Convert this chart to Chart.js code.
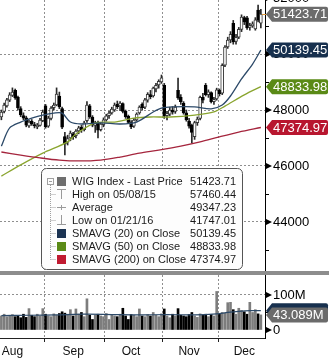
<!DOCTYPE html>
<html>
<head>
<meta charset="utf-8">
<script src="https://cdn.jsdelivr.net/npm/chart.js@4.4.1/dist/chart.umd.min.js"></script>
<style>
  html, body { margin: 0; padding: 0; background: #fff; }
  #wrap { position: relative; width: 329px; height: 360px; overflow: hidden; }
  #top { position: absolute; left: 0; top: 0; }
  #bottom { position: absolute; left: 0; top: 272px; }
  #sep { position: absolute; left: 0; top: 271px; width: 329px; height: 4px; background: #8d8d8d; }
</style>
</head>
<body>
<div id="wrap">
  <canvas id="top" width="329" height="272"></canvas>
  <canvas id="bottom" width="329" height="88"></canvas>
  <div id="sep"></div>
</div>
<script>
// trading days, Aug - Dec 2016
const augDays = [9, 10, 11, 12, 16, 17, 18, 19, 22, 23, 24, 25, 26, 29, 30, 31];
const sepDays = [1, 2, 5, 6, 7, 8, 9, 12, 13, 14, 15, 16, 19, 20, 21, 22, 23, 26, 27, 28, 29, 30];
const octDays = [3, 4, 5, 6, 7, 10, 11, 12, 13, 14, 17, 18, 19, 20, 21, 24, 25, 26, 27, 28, 31];
const novDays = [2, 3, 4, 7, 8, 9, 10, 14, 15, 16, 17, 18, 21, 22, 23, 24, 25, 28, 29, 30];
const decDays = [1, 2, 5, 6, 7, 8, 9, 12, 13, 14, 15, 16, 19, 20, 21, 22];
const monthNames = ["Aug", "Sep", "Oct", "Nov", "Dec"];
const monthLabelAt = [4, 26, 47, 68, 88];

const opens = [47750, 47950, 48150, 48350, 48520, 48700, 48450, 48050, 47800, 47720,
  47430, 47600, 47480, 47400, 47450, 47620, 48150, 47420, 47700, 48080,
  48180, 48500, 48050, 47050, 46850, 47000, 47150, 47080, 47250, 47380,
  47300, 47620, 48150, 47750, 47450, 47550, 47300, 47480, 47650, 47800,
  47900, 48000, 48200, 48150, 48230, 47950, 47780, 47550, 47420, 47650,
  47900, 48200, 48100, 48350, 48550, 48500, 48750, 48900, 49000, 48880,
  47800, 47850, 48000, 47950, 48700, 48450, 48250, 47900, 47600, 47450,
  47050, 47550, 47700, 48450, 48880, 48550, 48620, 48300, 48400, 48700,
  48600, 49600, 50250, 50500, 51100, 50450, 50600, 50880, 51300, 51290,
  50950, 51000, 50900, 51570, 51100];
const highs = [48000, 48250, 48420, 48620, 48790, 48750, 48500, 48120, 47900, 47780,
  47640, 47660, 47560, 47520, 47700, 48000, 48200, 47780, 48120, 48250,
  48790, 48640, 48100, 47200, 47100, 47250, 47200, 47300, 47420, 47450,
  47600, 48300, 48200, 47800, 47600, 47600, 47560, 47720, 47850, 47950,
  48100, 48250, 48320, 48300, 48260, 48000, 47820, 47620, 47700, 47900,
  48150, 48260, 48420, 48620, 48700, 48820, 48950, 49080, 49250, 48950,
  47950, 48100, 48120, 48180, 49140, 48550, 48300, 48000, 47700, 47500,
  47600, 47750, 48500, 48600, 48950, 48720, 48650, 48450, 48780, 48750,
  49650, 50300, 50600, 50800, 51200, 50700, 50950, 51400, 51350, 51350,
  51100, 51150, 51300, 51750, 51600];
const lows = [47650, 47900, 48100, 48300, 48480, 48380, 48000, 47760, 47650, 47400,
  47380, 47450, 47360, 47330, 47420, 47580, 47350, 47380, 47650, 48000,
  48150, 48050, 47330, 46400, 46750, 46900, 46950, 47000, 47150, 47200,
  47250, 47560, 47700, 47400, 47200, 47000, 47250, 47400, 47600, 47700,
  47850, 47950, 48050, 47980, 47900, 47700, 47520, 47330, 47380, 47600,
  47850, 47990, 48050, 48280, 48400, 48460, 48650, 48780, 48950, 47700,
  47650, 47800, 47850, 47880, 48380, 48200, 47850, 47600, 47350, 46820,
  46950, 47450, 47650, 48250, 48500, 48450, 48250, 48200, 48350, 48500,
  48550, 49550, 50200, 50400, 50350, 50350, 50550, 50800, 51050, 50880,
  50850, 50950, 50850, 51150, 50930];
const closes = [47930, 48180, 48360, 48540, 48640, 48430, 48070, 47820, 47710, 47460,
  47570, 47500, 47430, 47460, 47640, 47930, 47400, 47710, 48070, 48180,
  48570, 48110, 47390, 46790, 46980, 47180, 47050, 47250, 47360, 47290,
  47540, 48180, 47760, 47460, 47530, 47280, 47500, 47650, 47790, 47890,
  48030, 48180, 48120, 48250, 47950, 47760, 47560, 47400, 47640, 47850,
  48100, 48080, 48360, 48560, 48480, 48780, 48880, 49020, 49150, 47780,
  47880, 48000, 47920, 48100, 48430, 48300, 47900, 47650, 47420, 47200,
  47550, 47680, 48450, 48350, 48550, 48650, 48300, 48380, 48720, 48580,
  49600, 50250, 50500, 50700, 50430, 50600, 50880, 51320, 51150, 50930,
  51020, 51080, 51220, 51210, 51423.71];
// volume in millions
const volumes = [40, 45, 38, 42, 44, 38, 41, 35, 45, 36,
  61, 42, 38, 45, 40, 61, 45, 40, 38, 46,
  42, 47, 52, 48, 45, 58, 40, 60, 45, 50,
  38, 89, 42, 30, 42, 45, 40, 38, 47, 30,
  44, 40, 38, 45, 62, 40, 30, 44, 42, 38,
  60, 40, 38, 44, 40, 50, 42, 38, 46, 60,
  40, 35, 45, 40, 61, 42, 40, 38, 44, 50,
  40, 36, 46, 42, 45, 38, 44, 40, 110, 45,
  50, 48, 78, 79, 58, 45, 62, 56, 52, 45,
  79, 50, 58, 46, 43.089];

// moving averages: [day index, value]
const sma20Pts = [[0, 46710], [3, 47360], [7, 47570], [11, 47710], [15, 47820], [19, 47890],
  [22, 47890], [25, 47570], [29, 47500], [36, 47540], [43, 47500], [49, 47570], [55, 47930],
  [58, 48070], [62, 48110], [70, 48110], [76, 48040], [80, 48180], [83, 48500], [87, 49110],
  [91, 49640], [94, 50139.45]];
const sma50Pts = [[0, 45640], [7, 46040], [15, 46460], [24, 46860], [27, 47140], [34, 47540],
  [41, 47570], [48, 47710], [54, 47750], [61, 47750], [70, 47820], [77, 47930], [81, 48140],
  [88, 48540], [94, 48833.98]];
const sma200Pts = [[0, 46500], [7, 46390], [14, 46290], [21, 46210], [28, 46180], [36, 46210],
  [43, 46320], [50, 46460], [57, 46570], [65, 46710], [72, 46860], [79, 47040], [86, 47210],
  [94, 47374.97]];
const volAvgPts = [[0, 41], [10, 42], [20, 43], [30, 45], [40, 44], [50, 43], [60, 44],
  [70, 43], [78, 46], [82, 50], [86, 53], [90, 55], [94, 55]];

const priceTicks = [43000, 44000, 45000, 46000, 47000, 48000, 49000, 50000, 51000];
const volTicks = [0, 50, 100];

const legendRows = [
  ["WIG Index - Last Price", "51423.71"],
  ["High on 05/08/15", "57460.44"],
  ["Average", "49347.23"],
  ["Low on 01/21/16", "41747.01"],
  ["SMAVG (20) on Close", "50139.45"],
  ["SMAVG (50) on Close", "48833.98"],
  ["SMAVG (200) on Close", "47374.97"],
];
const priceTags = [
  [51423.71, "51423.71", "#6b6b6b"],
  [50139.45, "50139.45", "#17304e"],
  [48833.98, "48833.98", "#5a8a16"],
  [47374.97, "47374.97", "#b8162f"],
];

const labels = [];
const monthStarts = [];
[augDays, sepDays, octDays, novDays, decDays].forEach((days, m) => {
  monthStarts.push(labels.length);
  days.forEach((d) => labels.push("2016-" + (m + 8) + "-" + d));
});
labels.push(""); // empty slot on the right

const pts = (arr) => arr.map((p) => ({ x: labels[p[0]], y: p[1] }));
const isUp = (i) => closes[i] >= opens[i];

const FONT = "Liberation Sans";
const gridGrey = "#8f8f8f";
const clear = "rgba(0,0,0,0)";
const xGridColor = (ctx) =>
  monthStarts.includes(ctx.index) && ctx.index > 0 ? gridGrey : clear;
const noPad = (s) => {
  s.paddingLeft = 0;
  s.paddingRight = 0;
  s.paddingTop = 0;
  s.paddingBottom = 0;
};

function drawTag(ctx, y, text, fill) {
  const x0 = 266, x1 = 272, x2 = 328, h = 7.5;
  ctx.beginPath();
  ctx.moveTo(x0, y);
  ctx.lineTo(x1, y - h);
  ctx.lineTo(x2 - 2, y - h);
  ctx.quadraticCurveTo(x2, y - h, x2, y - h + 2);
  ctx.lineTo(x2, y + h - 2);
  ctx.quadraticCurveTo(x2, y + h, x2 - 2, y + h);
  ctx.lineTo(x1, y + h);
  ctx.closePath();
  ctx.fillStyle = fill;
  ctx.fill();
  if (text) {
    ctx.fillStyle = "#fff";
    ctx.font = "13px '" + FONT + "'";
    ctx.textAlign = "left";
    ctx.textBaseline = "middle";
    ctx.fillText(text, 273, y + 0.5);
  }
}

function drawMarks(ctx, scale, majors, minors) {
  const x = scale.left;
  ctx.fillStyle = "#000";
  ctx.strokeStyle = "#000";
  ctx.lineWidth = 1;
  majors.forEach((v) => {
    const y = scale.getPixelForValue(v);
    ctx.beginPath();
    ctx.moveTo(x, y - 3.5);
    ctx.lineTo(x + 7, y);
    ctx.lineTo(x, y + 3.5);
    ctx.closePath();
    ctx.fill();
  });
  minors.forEach((v) => {
    const y = Math.round(scale.getPixelForValue(v)) + 0.5;
    ctx.beginPath();
    ctx.moveTo(x, y);
    ctx.lineTo(x + 4, y);
    ctx.stroke();
  });
}

const pricePlugin = {
  id: "priceExtras",
  afterDatasetsDraw(chart) {
    const ctx = chart.ctx;
    ctx.save();
    // legend box
    const lx = 41.5, ly = 168.5, lw = 201, lh = 101;
    ctx.beginPath();
    ctx.roundRect(lx, ly, lw, lh, 5);
    ctx.fillStyle = "#fdfdfd";
    ctx.fill();
    ctx.strokeStyle = "#555";
    ctx.lineWidth = 1;
    ctx.stroke();

    const rowY = (r) => 181 + r * 13;
    // tree lines
    ctx.strokeStyle = "#a0a0a0";
    ctx.strokeRect(47.5, 178.5, 6, 6);
    ctx.beginPath();
    ctx.moveTo(49, 181.5);
    ctx.lineTo(52, 181.5);
    ctx.stroke();
    ctx.setLineDash([1, 1]);
    ctx.beginPath();
    ctx.moveTo(50.5, 185);
    ctx.lineTo(50.5, rowY(6) + 0.5);
    for (let r = 1; r < legendRows.length; r++) {
      ctx.moveTo(50.5, rowY(r) + 0.5);
      ctx.lineTo(56, rowY(r) + 0.5);
    }
    ctx.stroke();
    ctx.setLineDash([]);

    // icons
    const sq = ["#6d6d6d", null, null, null, "#1b3352", "#5a8a16", "#c01a30"];
    sq.forEach((c, r) => {
      if (c) {
        ctx.fillStyle = c;
        ctx.fillRect(57, rowY(r) - 4, 9, 9);
      }
    });
    ctx.strokeStyle = "#9a9a9a";
    ctx.beginPath();
    ctx.moveTo(57, rowY(1) - 4.5);
    ctx.lineTo(66, rowY(1) - 4.5);
    ctx.moveTo(61.5, rowY(1) - 4.5);
    ctx.lineTo(61.5, rowY(1) + 5);
    ctx.moveTo(57, rowY(2) + 0.5);
    ctx.lineTo(66, rowY(2) + 0.5);
    ctx.moveTo(61.5, rowY(2) - 2);
    ctx.lineTo(61.5, rowY(2) + 3);
    ctx.moveTo(61.5, rowY(3) - 5);
    ctx.lineTo(61.5, rowY(3) + 4.5);
    ctx.moveTo(57, rowY(3) + 4.5);
    ctx.lineTo(66, rowY(3) + 4.5);
    ctx.stroke();

    ctx.font = "11px '" + FONT + "'";
    ctx.fillStyle = "#1a1a1a";
    ctx.textBaseline = "middle";
    legendRows.forEach((row, r) => {
      ctx.textAlign = "left";
      ctx.fillText(row[0], 72, rowY(r) + 0.5);
      ctx.textAlign = "right";
      ctx.fillText(row[1], 236, rowY(r) + 0.5);
    });
    ctx.restore();
  },
  afterDraw(chart) {
    const ctx = chart.ctx;
    const ys = chart.scales.y;
    ctx.save();
    drawMarks(ctx, ys, [44000, 46000, 48000, 50000, 52000], [43000, 45000, 47000, 49000, 51000]);
    ctx.fillStyle = "#000";
    ctx.font = "13px '" + FONT + "'";
    ctx.textAlign = "left";
    ctx.textBaseline = "middle";
    ctx.fillText("52000", 273, ys.getPixelForValue(52000));
    // last price marker
    const yl = Math.round(ys.getPixelForValue(closes[closes.length - 1])) + 0.5;
    ctx.strokeStyle = "#e39a3b";
    ctx.beginPath();
    ctx.moveTo(262, yl);
    ctx.lineTo(268, yl);
    ctx.stroke();
    priceTags.forEach((t) => drawTag(ctx, ys.getPixelForValue(t[0]), t[1], t[2]));
    ctx.restore();
  },
};

const volPlugin = {
  id: "volExtras",
  afterDraw(chart) {
    const ctx = chart.ctx;
    const ys = chart.scales.y;
    ctx.save();
    drawMarks(ctx, ys, [0, 100], [50]);
    drawTag(ctx, ys.getPixelForValue(volAvgPts[volAvgPts.length - 1][1]), "", "#17304e");
    drawTag(ctx, ys.getPixelForValue(volumes[volumes.length - 1]), "43.089M", "#6b6b6b");
    ctx.restore();
  },
};

const common = {
  responsive: false,
  animation: false,
  devicePixelRatio: 1,
  events: [],
  plugins: { legend: { display: false }, tooltip: { enabled: false } },
};

new Chart(document.getElementById("top"), {
  data: {
    labels: labels,
    datasets: [
      {
        type: "bar",
        data: lows.map((l, i) => [l, highs[i]]),
        backgroundColor: "#2a2a2a",
        barThickness: 1,
        grouped: false,
        order: 3,
      },
      {
        type: "bar",
        data: opens.map((o, i) => [o, closes[i]]),
        backgroundColor: opens.map((o, i) => (isUp(i) ? "#ffffff" : "#000000")),
        borderColor: opens.map((o, i) => (isUp(i) ? "#3a3a3a" : "#000000")),
        borderWidth: 1,
        borderSkipped: false,
        barThickness: 3,
        grouped: false,
        order: 2,
      },
      { type: "line", data: pts(sma200Pts), borderColor: "#a5253d", borderWidth: 1.3, pointRadius: 0, tension: 0.3, order: 1 },
      { type: "line", data: pts(sma50Pts), borderColor: "#8aa52f", borderWidth: 1.3, pointRadius: 0, tension: 0.3, order: 1 },
      { type: "line", data: pts(sma20Pts), borderColor: "#2d4a69", borderWidth: 1.3, pointRadius: 0, tension: 0.3, order: 0 },
    ],
  },
  options: {
    ...common,
    layout: { padding: 0 },
    scales: {
      x: {
        type: "category",
        offset: true,
        afterFit: (s) => { s.height = 0; noPad(s); },
        grid: { offset: true, color: xGridColor, drawTicks: false },
        border: { display: false, dash: [2, 2] },
        ticks: { display: false },
      },
      y: {
        position: "right",
        min: 42214,
        max: 51929,
        afterBuildTicks: (s) => { s.ticks = priceTicks.map((v) => ({ value: v })); },
        afterFit: (s) => { s.width = 64; noPad(s); },
        ticks: {
          autoSkip: false,
          padding: 8,
          color: "#000",
          font: { family: FONT, size: 13 },
          callback: (v) => (v % 2000 === 0 ? String(v) : ""),
        },
        grid: {
          drawTicks: false,
          color: (ctx) => (ctx.tick && ctx.tick.value % 2000 === 0 ? gridGrey : clear),
        },
        border: { display: true, color: "#000", dash: [2, 2] },
      },
    },
  },
  plugins: [pricePlugin],
});

new Chart(document.getElementById("bottom"), {
  data: {
    labels: labels,
    datasets: [
      {
        type: "bar",
        data: volumes,
        backgroundColor: volumes.map((v, i) => (isUp(i) ? "#7d7d7d" : "#000000")),
        barThickness: 2,
        order: 1,
      },
      { type: "line", data: pts(volAvgPts), borderColor: "#2d4a69", borderWidth: 1.2, pointRadius: 0, tension: 0.3, order: 0 },
    ],
  },
  options: {
    ...common,
    layout: { padding: { top: 3 } },
    scales: {
      x: {
        type: "category",
        offset: true,
        afterFit: (s) => { s.height = 22; noPad(s); },
        grid: {
          offset: true,
          color: xGridColor,
          tickColor: (ctx) => (monthStarts.includes(ctx.index) && ctx.index > 0 ? "#222" : clear),
          tickLength: 4,
          tickBorderDash: [],
        },
        border: { display: true, color: "#222", dash: [2, 2] },
        ticks: {
          autoSkip: false,
          maxRotation: 0,
          padding: 2,
          color: "#111",
          font: { family: FONT, size: 12 },
          callback: (v, i) => {
            const m = monthLabelAt.indexOf(i);
            return m >= 0 ? monthNames[m] : "";
          },
        },
      },
      y: {
        position: "right",
        min: -22.9,
        max: 157,
        afterBuildTicks: (s) => { s.ticks = volTicks.map((v) => ({ value: v })); },
        afterFit: (s) => { s.width = 64; noPad(s); },
        ticks: {
          autoSkip: false,
          padding: 8,
          color: "#000",
          font: { family: FONT, size: 13 },
          callback: (v) => (v === 100 ? "100M" : v === 0 ? "0" : ""),
        },
        grid: {
          drawTicks: false,
          color: (ctx) => (ctx.tick && ctx.tick.value === 100 ? gridGrey : clear),
        },
        border: { display: true, color: "#000", dash: [2, 2] },
      },
    },
  },
  plugins: [volPlugin],
});
</script>
</body>
</html>
